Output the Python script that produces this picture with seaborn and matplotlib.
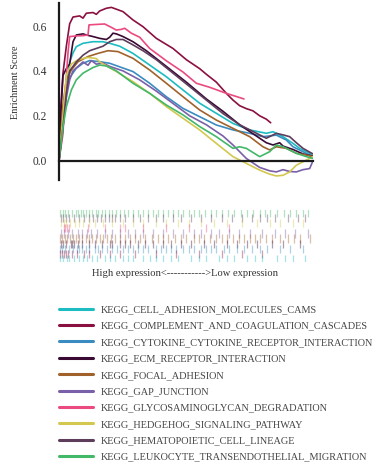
import numpy as np
import pandas as pd
import matplotlib
matplotlib.use("Agg")
import matplotlib.pyplot as plt
from matplotlib.lines import Line2D
import seaborn as sns

# gene sets (legend order) and colours
gene_sets = ["KEGG_CELL_ADHESION_MOLECULES_CAMS",
             "KEGG_COMPLEMENT_AND_COAGULATION_CASCADES",
             "KEGG_CYTOKINE_CYTOKINE_RECEPTOR_INTERACTION",
             "KEGG_ECM_RECEPTOR_INTERACTION",
             "KEGG_FOCAL_ADHESION",
             "KEGG_GAP_JUNCTION",
             "KEGG_GLYCOSAMINOGLYCAN_DEGRADATION",
             "KEGG_HEDGEHOG_SIGNALING_PATHWAY",
             "KEGG_HEMATOPOIETIC_CELL_LINEAGE",
             "KEGG_LEUKOCYTE_TRANSENDOTHELIAL_MIGRATION"]
colors = ["#1cbcc2", "#8a1040", "#3a8cc0", "#3a0a35", "#a0622a",
          "#7a60a8", "#ea4a80", "#d2c850", "#5e3c5c", "#42b868"]

# running enrichment scores: rank position (% of ranked list) / ES
cams_x = [0, 1.57, 2.89, 4.2, 5.51, 6.82, 9.45, 13.39, 17.32, 19.95, 23.88, 29.13, 35.7, 42.26,
          48.82, 55.38, 61.94, 68.5, 75.07, 81.63, 84.25, 88.19, 92.13, 94.75, 98.69, 100]
cams_y = [0, 0.18, 0.33, 0.44, 0.48, 0.508, 0.523, 0.53, 0.53, 0.523, 0.51, 0.478, 0.426, 0.374,
          0.315, 0.256, 0.211, 0.166, 0.137, 0.122, 0.129, 0.107, 0.077, 0.055, 0.033, 0.02]

compl_x = [0, 0.66, 1.57, 2.89, 4.2, 5.51, 8.14, 9.45, 10.76, 13.39, 14.7, 16.01, 18.64, 20.6,
           22.57, 25.2, 29.13, 33.07, 38.32, 44.88, 50.13, 55.38, 58.01, 61.94, 65.88, 68.5,
           71.13, 73.75, 76.38, 79.0, 81.63, 83.33]
compl_y = [0, 0.23, 0.39, 0.51, 0.61, 0.64, 0.645, 0.635, 0.657, 0.66, 0.652, 0.667, 0.679, 0.683,
           0.675, 0.664, 0.627, 0.597, 0.545, 0.5, 0.45, 0.41, 0.385, 0.35, 0.3, 0.27,
           0.245, 0.232, 0.222, 0.2, 0.185, 0.169]

cyto_x = [0, 1.57, 2.89, 4.2, 6.82, 9.45, 12.07, 16.01, 19.95, 29.13, 35.7, 42.26, 48.82, 55.38,
          61.94, 68.5, 75.07, 80.31, 85.56, 89.5, 92.13, 96.06, 100]
cyto_y = [0, 0.226, 0.33, 0.37, 0.412, 0.434, 0.446, 0.441, 0.434, 0.397, 0.345, 0.285, 0.233, 0.196,
          0.159, 0.137, 0.122, 0.107, 0.114, 0.092, 0.062, 0.04, 0.018]

ecm_x = [0, 0.92, 1.57, 2.89, 4.2, 5.51, 6.82, 9.45, 10.76, 13.39, 16.01, 18.64, 19.95, 21.26,
         22.57, 25.2, 29.13, 34.38, 42.26, 50.13, 58.01, 64.57, 71.13, 76.38, 81.63, 84.25,
         86.88, 88.19, 92.13, 96.06, 100]
ecm_y = [0, 0.25, 0.38, 0.41, 0.43, 0.53, 0.56, 0.565, 0.56, 0.553, 0.545, 0.54, 0.55, 0.568,
         0.565, 0.553, 0.53, 0.49, 0.42, 0.35, 0.275, 0.22, 0.16, 0.12, 0.08, 0.07,
         0.08, 0.065, 0.05, 0.03, 0.02]

focal_x = [0, 1.57, 2.89, 4.86, 7.48, 11.42, 15.35, 19.29, 23.23, 29.13, 35.7, 42.26, 48.82,
           55.38, 61.94, 68.5, 75.07, 80.31, 82.94, 85.56, 89.5, 93.44, 97.38, 100]
focal_y = [0, 0.25, 0.36, 0.404, 0.441, 0.464, 0.478, 0.49, 0.486, 0.456, 0.404, 0.345, 0.285,
           0.226, 0.181, 0.144, 0.107, 0.062, 0.048, 0.062, 0.055, 0.033, 0.025, 0.018]

gap_x = [0, 1.57, 2.89, 4.2, 5.51, 7.48, 9.45, 11.42, 12.73, 14.7, 17.32, 19.95, 25.2, 31.76,
         38.32, 44.88, 51.44, 58.01, 64.57, 68.5, 73.75, 79.0, 82.94, 85.56, 88.19, 90.81,
         93.44, 96.06, 98.69, 100]
gap_y = [0, 0.15, 0.28, 0.36, 0.4, 0.42, 0.44, 0.425, 0.446, 0.43, 0.435, 0.42, 0.4, 0.36,
         0.31, 0.255, 0.2, 0.16, 0.11, 0.07, 0.01, -0.03, -0.045, -0.05, -0.04, -0.048,
         -0.05, -0.04, -0.035, 0.0]

glyco_x = [0, 1.57, 2.23, 3.54, 4.2, 6.82, 9.45, 11.42, 11.81, 14.7, 17.98, 20.6, 22.57, 24.54,
           25.85, 28.48, 31.76, 35.7, 42.26, 48.82, 54.07, 59.32, 65.88, 72.83]
glyco_y = [0, 0.12, 0.27, 0.48, 0.553, 0.556, 0.557, 0.56, 0.605, 0.607, 0.609, 0.594, 0.582, 0.585,
           0.59, 0.568, 0.55, 0.5, 0.445, 0.395, 0.345, 0.327, 0.3, 0.275]

hedge_x = [0, 1.57, 2.89, 4.86, 7.48, 11.42, 14.7, 16.01, 22.57, 29.13, 35.7, 42.26, 48.82, 55.38,
           61.94, 68.5, 73.75, 79.0, 82.94, 85.56, 88.19, 90.81, 93.44, 96.06, 100]
hedge_y = [0, 0.2, 0.38, 0.43, 0.45, 0.46, 0.455, 0.44, 0.397, 0.352, 0.3, 0.241, 0.189, 0.137,
           0.077, 0.018, -0.012, -0.042, -0.06, -0.068, -0.065, -0.05, -0.02, -0.005, 0.018]

hema_x = [0, 1.57, 2.89, 4.2, 6.82, 9.45, 12.07, 14.7, 17.32, 19.95, 22.57, 25.2, 28.48, 33.07,
          38.32, 44.88, 51.44, 58.01, 64.57, 71.13, 76.38, 81.63, 85.56, 88.19, 90.81, 93.44,
          96.06, 100]
hema_y = [0, 0.15, 0.3, 0.4, 0.44, 0.47, 0.49, 0.5, 0.51, 0.53, 0.54, 0.54, 0.52, 0.49,
          0.45, 0.39, 0.33, 0.27, 0.21, 0.16, 0.13, 0.1, 0.122, 0.115, 0.107, 0.08,
          0.055, 0.03]

leuko_x = [0, 1.57, 2.89, 4.86, 6.82, 9.45, 13.39, 16.01, 18.64, 22.57, 29.13, 35.7, 42.26, 48.82,
           55.38, 61.94, 68.5, 71.13, 73.75, 79.0, 82.94, 85.56, 88.19, 93.44, 97.38, 100]
leuko_y = [0, 0.15, 0.24, 0.315, 0.36, 0.39, 0.415, 0.426, 0.422, 0.4, 0.345, 0.3, 0.248, 0.204,
           0.152, 0.107, 0.055, 0.062, 0.055, 0.018, 0.04, 0.07, 0.062, 0.033, 0.018, 0.01]

xs = [cams_x, compl_x, cyto_x, ecm_x, focal_x, gap_x, glyco_x, hedge_x, hema_x, leuko_x]
ys = [cams_y, compl_y, cyto_y, ecm_y, focal_y, gap_y, glyco_y, hedge_y, hema_y, leuko_y]

# hit positions of each gene set in the ranked list (%)
cams_hits = [0.5, 1.5, 3, 4, 6, 8, 9.5, 11, 13, 15, 18, 20, 22, 25, 27, 29, 33, 36, 38, 41, 44, 47,
             52, 55, 58, 63, 66, 69, 74, 77, 80, 86, 89, 92, 97]
compl_hits = [0.3, 1, 2, 2.8, 3.5, 5, 7, 10, 12, 16, 20, 24, 30, 38, 46, 55, 64, 72, 80]
cyto_hits = [0.5, 1.2, 2.5, 4, 5.5, 7, 8, 9, 10.5, 12, 14, 15.5, 17, 19, 21, 23, 25, 27, 29, 31, 33,
             35, 38, 40, 42, 44, 46, 49, 51, 53, 56, 58, 60, 62, 65, 67, 70, 73, 76, 79, 82, 87,
             91, 96]
ecm_hits = [0.6, 1.4, 2.6, 4.6, 5.2, 6, 7.5, 9, 12, 14, 17, 20, 21, 24, 26, 28, 31, 34, 37, 41, 44,
            48, 52, 57, 61, 66, 70, 74, 78, 84, 88, 95]
focal_hits = [0.4, 1.3, 2.2, 3.1, 4.5, 5.5, 6.5, 8, 9, 10.5, 12, 13, 14.5, 16, 17.5, 19, 20.5, 22,
              24, 26, 28, 30, 32, 34, 36.5, 39, 41, 43, 45.5, 48, 50, 53, 55, 57, 59.5, 62, 64,
              66, 68.5, 71, 73, 75, 77, 79, 81.5, 84, 87, 90, 92.5, 95, 99]
gap_hits = [0.8, 2, 3.6, 5, 7.3, 9.2, 11, 12.5, 15, 18, 21, 24, 27, 30, 33, 37, 41, 45, 49, 53,
            56, 60, 63, 67, 71, 75, 80, 85, 89, 93, 98]
glyco_hits = [1.8, 2.4, 3.2, 3.9, 11.6, 18, 24, 26, 33, 42, 51, 58, 67]
hedge_hits = [0.8, 1.8, 2.8, 4.2, 6.2, 8, 9.5, 12, 14, 17.5, 21, 25, 29, 33, 38, 42, 47, 51, 56,
              61, 66, 72, 78, 83, 87, 92, 96]
hema_hits = [0.7, 1.7, 2.7, 4, 5.8, 8, 10, 12, 13.5, 15, 16.5, 18, 19.5, 21, 22, 24, 26, 29, 32,
             35, 38, 41, 45, 48, 52, 56, 60, 64, 68, 72, 76, 79, 82, 85, 90, 94, 97]
leuko_hits = [0.4, 1.6, 2.5, 3.7, 5, 6.5, 7.5, 8.5, 9.5, 10.5, 12, 13, 14.5, 15.5, 17, 18, 19.5,
              21, 22.5, 24, 25.5, 27, 29, 31, 33, 35, 37, 39, 41, 43, 45, 47, 49, 51, 53, 55,
              57.5, 60, 62, 64, 66.5, 69, 71.5, 74, 76.5, 79, 81, 83, 86, 88.5, 91, 93.5, 96, 98]
hits = [cams_hits, compl_hits, cyto_hits, ecm_hits, focal_hits, gap_hits,
        glyco_hits, hedge_hits, hema_hits, leuko_hits]

es = pd.concat([pd.DataFrame({"rank": x, "es": y, "set": n})
                for x, y, n in zip(xs, ys, gene_sets)], ignore_index=True)

sns.set_style("white")
plt.rcParams['font.family'] = ['Liberation Serif', 'DejaVu Serif']

fig = plt.figure(figsize=(3.79, 4.68), dpi=100)
W, H = 379., 468.
ax = fig.add_axes([59 / W, 1 - 180 / H, 254 / W, 177 / H])

sns.lineplot(data=es, x="rank", y="es", hue="set", palette=colors, hue_order=gene_sets,
             sort=False, estimator=None, linewidth=1.2, legend=False, ax=ax)
ax.set_xlim(0, 100)
ax.set_ylim(-0.086, 0.7025)
ax.set_yticks([0.0, 0.2, 0.4, 0.6])
ax.set_yticklabels(["0.0", "0.2", "0.4", "0.6"])
ax.tick_params(axis="y", length=0, labelsize=8.3, labelcolor="#333333", pad=8.5)
ax.set_xticks([])
ax.set_xlabel("")
ax.set_ylabel("Enrichment Score", fontsize=7.4, color="#333333")
ax.yaxis.set_label_coords(-0.155, 0.55)
for s in ["top", "right"]:
    ax.spines[s].set_visible(False)
ax.spines["left"].set_linewidth(1.6)
ax.spines["left"].set_color("#1a1a1a")
ax.spines["bottom"].set_position(("data", 0))
ax.spines["bottom"].set_linewidth(1.6)
ax.spines["bottom"].set_color("#1a1a1a")

# barcode of hits
bx = fig.add_axes([59 / W, 1 - 262 / H, 254 / W, 52 / H])
order = list(range(len(gene_sets)))[::-1]
for row, i in enumerate(order):
    bx.vlines(hits[i], row - 0.3, row + 1.3, colors=colors[i], alpha=0.4, linewidth=0.9)
bx.set_xlim(0, 100)
bx.set_ylim(len(gene_sets), 0)
bx.axis("off")

fig.text(185 / W, 1 - 273 / H, "High expression<----------->Low expression",
         ha="center", va="center", fontsize=7.6, color="#333333")

handles = [Line2D([0], [0], color=c, lw=2.2) for c in colors]
fig.legend(handles, gene_sets, loc="upper left", bbox_to_anchor=(59 / W, 1 - 305 / H),
           frameon=False, fontsize=7.4, handlelength=3.3, handletextpad=0.75,
           labelspacing=0.7, borderpad=0, borderaxespad=0, labelcolor="#444444")

fig.savefig("out.png", dpi=100)
